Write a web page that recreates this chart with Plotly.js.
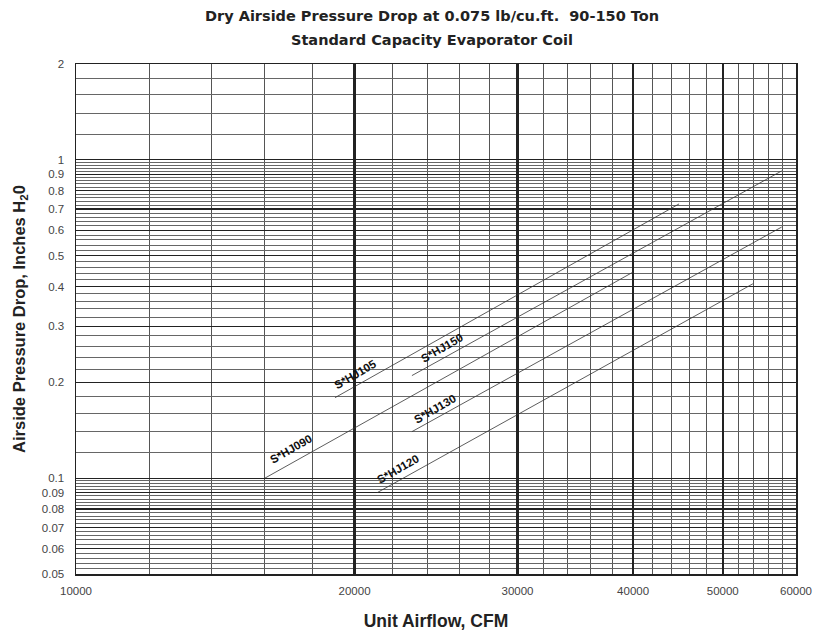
<!DOCTYPE html>
<html>
<head>
<meta charset="utf-8">
<script src="https://cdn.plot.ly/plotly-3.0.1.min.js"></script>
<style>html,body{margin:0;padding:0;background:#fff;}#chart{width:813px;height:631px;}</style>
</head>
<body>
<div id="chart"></div>
<script>
// ---- data ----
const seriesNames = ["S*HJ090", "S*HJ105", "S*HJ150", "S*HJ130", "S*HJ120"];
const cfm090 = [16000, 40000];  const dp090 = [0.100, 0.444];
const cfm105 = [19050, 44850];  const dp105 = [0.179, 0.727];
const cfm150 = [23070, 57900];  const dp150 = [0.210, 0.923];
const cfm130 = [23070, 57900];  const dp130 = [0.140, 0.615];
const cfm120 = [21150, 53900];  const dp120 = [0.090, 0.408];

// ---- tick labels ----
const xTickVals = [10000, 20000, 30000, 40000, 50000, 60000];
const xTickText = ["10000", "20000", "30000", "40000", "50000", "60000"];
const xMinorVals = [12000, 14000, 16000, 18000, 22000, 24000, 26000, 28000,
  32000, 34000, 36000, 38000, 42000, 44000, 46000, 48000, 52000, 54000, 56000, 58000];
const yTickVals = [0.05, 0.06, 0.07, 0.08, 0.09, 0.1, 0.2, 0.3, 0.4, 0.5, 0.6, 0.7, 0.8, 0.9, 1, 2];
const yTickText = ["0.05", "0.06", "0.07", "0.08", "0.09", "0.1", "0.2", "0.3", "0.4", "0.5", "0.6", "0.7", "0.8", "0.9", "1", "2"];
const yMinorVals = [
  0.052, 0.054, 0.056, 0.058, 0.062, 0.064, 0.066, 0.068, 0.072, 0.074, 0.076, 0.078,
  0.082, 0.084, 0.086, 0.088, 0.092, 0.094, 0.096, 0.098,
  0.12, 0.14, 0.16, 0.18, 0.22, 0.24, 0.26, 0.28, 0.32, 0.34, 0.36, 0.38,
  0.42, 0.44, 0.46, 0.48, 0.52, 0.54, 0.56, 0.58, 0.62, 0.64, 0.66, 0.68,
  0.72, 0.74, 0.76, 0.78, 0.82, 0.84, 0.86, 0.88, 0.92, 0.94, 0.96, 0.98,
  1.2, 1.4, 1.6, 1.8];

const xs = [cfm090, cfm105, cfm150, cfm130, cfm120];
const ys = [dp090, dp105, dp150, dp130, dp120];

const traces = seriesNames.map((n, i) => ({
  x: xs[i], y: ys[i], name: n, type: 'scatter', mode: 'lines',
  line: {color: '#333', width: 0.8}, hoverinfo: 'x+y+name'
}));

const FAM = 'Liberation Sans, Arial, sans-serif';
const lblFont = {family: FAM, size: 11.5, color: '#111'};
function lbl(text, xv, yv) {
  return {text: '<b>' + text + '</b>', x: Math.log10(xv), y: Math.log10(yv), xref: 'x', yref: 'y',
    showarrow: false, textangle: -30, font: lblFont};
}

const layout = {
  width: 813, height: 631,
  margin: {l: 76, r: 17, t: 64, b: 57},
  paper_bgcolor: '#fff', plot_bgcolor: '#fff',
  showlegend: false,
  font: {family: FAM, color: '#333'},
  title: {
    text: '<b>Dry Airside Pressure Drop at 0.075 lb/cu.ft.  90-150 Ton</b>',
    font: {size: 14.5, color: '#222', family: 'DejaVu Sans, sans-serif'},
    x: 432 / 813, xanchor: 'center', xref: 'container',
    y: 1 - 16 / 631, yanchor: 'middle', yref: 'container'
  },
  xaxis: {
    type: 'log', range: [4, Math.log10(60000)],
    tickmode: 'array', tickvals: xTickVals, ticktext: xTickText,
    tickfont: {size: 11.5, color: '#444'}, ticklabelstandoff: 6,
    ticks: '', showgrid: true, gridcolor: '#222', gridwidth: 2.2,
    minor: {tickmode: 'array', tickvals: xMinorVals, showgrid: true, gridcolor: '#555', gridwidth: 1, ticks: ''},
    showline: true, mirror: true, linecolor: '#222', linewidth: 1.5,
    zeroline: false,
    title: {text: '<b>Unit Airflow, CFM</b>', font: {size: 17.5, color: '#222'}, standoff: 20}
  },
  yaxis: {
    type: 'log', range: [Math.log10(0.05), Math.log10(2)],
    tickmode: 'array', tickvals: yTickVals, ticktext: yTickText,
    tickfont: {size: 11.5, color: '#444'}, ticklabelstandoff: 8,
    ticks: '', showgrid: true, gridcolor: '#222', gridwidth: 1.3,
    minor: {tickmode: 'array', tickvals: yMinorVals, showgrid: true, gridcolor: '#666', gridwidth: 1, ticks: ''},
    showline: true, mirror: true, linecolor: '#222', linewidth: 1.5,
    zeroline: false,
    title: {text: '<b>Airside Pressure Drop, Inches H<sub>2</sub>0</b>', font: {size: 16.5, color: '#222'}, standoff: 12}
  },
  annotations: [
    {text: '<b>Standard Capacity Evaporator Coil</b>', xref: 'paper', yref: 'paper',
      x: (432 - 76) / 720, y: 1 + 24 / 510, yanchor: 'middle', xanchor: 'center', showarrow: false,
      font: {size: 14.5, color: '#222', family: 'DejaVu Sans, sans-serif'}},
    lbl(seriesNames[0], 17080, 0.1235),
    lbl(seriesNames[1], 20070, 0.2126),
    lbl(seriesNames[2], 24860, 0.2565),
    lbl(seriesNames[3], 24430, 0.1650),
    lbl(seriesNames[4], 22290, 0.1069)
  ]
};

Plotly.newPlot('chart', traces, layout, {displayModeBar: false, staticPlot: true});
</script>
</body>
</html>
